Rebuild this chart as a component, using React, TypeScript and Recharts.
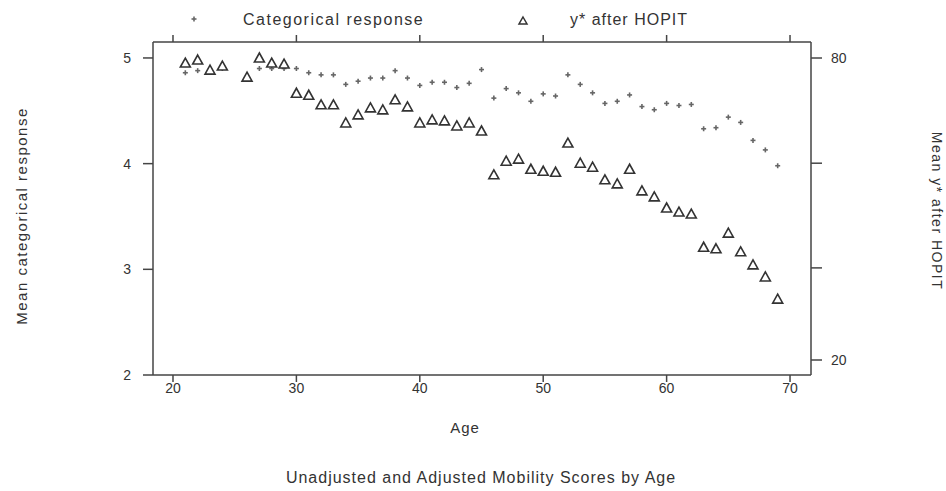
import React from "react";
import {
  ScatterChart,
  Scatter,
  XAxis,
  YAxis,
  Label,
} from "recharts";

const ages = [
  21, 22, 23, 24, 26, 27, 28, 29, 30, 31, 32, 33, 34, 35, 36, 37, 38, 39, 40,
  41, 42, 43, 44, 45, 46, 47, 48, 49, 50, 51, 52, 53, 54, 55, 56, 57, 58, 59,
  60, 61, 62, 63, 64, 65, 66, 67, 68, 69,
];

// mean categorical response (left axis)
const categorical = [
  4.86, 4.88, 4.88, 4.9, 4.82, 4.9, 4.9, 4.9, 4.9, 4.86, 4.84, 4.84, 4.75,
  4.78, 4.81, 4.81, 4.88, 4.81, 4.74, 4.77, 4.77, 4.72, 4.76, 4.89, 4.62, 4.71,
  4.67, 4.59, 4.66, 4.64, 4.84, 4.75, 4.67, 4.57, 4.59, 4.65, 4.54, 4.51, 4.57,
  4.55, 4.56, 4.33, 4.34, 4.44, 4.39, 4.22, 4.13, 3.98,
];

// mean y* after HOPIT (right axis)
const ystar = [
  79.0, 79.6, 77.6, 78.4, 76.2, 80.0, 79.0, 78.8, 73.0, 72.6, 70.7, 70.7, 67.1,
  68.7, 70.1, 69.7, 71.7, 70.3, 67.1, 67.7, 67.5, 66.5, 67.1, 65.5, 56.8, 59.5,
  59.9, 57.9, 57.5, 57.3, 63.1, 59.1, 58.3, 55.8, 55.0, 57.9, 53.6, 52.4, 50.2,
  49.4, 49.0, 42.4, 42.1, 45.2, 41.5, 38.9, 36.5, 32.1,
];

const ageTicks = [20, 30, 40, 50, 60, 70];
const leftTicks = [2, 3, 4, 5];
const rightTicks = [20, 38.3, 59.1, 80];
const rightLabels = [20, 80];

const data = ages.map((age, i) => ({
  age,
  cat: categorical[i],
  ys: ystar[i],
}));

const FONT = '"Liberation Sans", Arial, sans-serif';
const AXIS = "#454545";
const tickStyle = { fontSize: 14, fill: "#333", fontFamily: FONT };

function PlusMark({ cx, cy }: { cx?: number; cy?: number }) {
  if (cx == null || cy == null) return null;
  return (
    <g stroke="#666" strokeWidth={1.6}>
      <line x1={cx - 2.5} y1={cy} x2={cx + 2.5} y2={cy} />
      <line x1={cx} y1={cy - 2.5} x2={cx} y2={cy + 2.5} />
    </g>
  );
}

function TriMark({ cx, cy }: { cx?: number; cy?: number }) {
  if (cx == null || cy == null) return null;
  return (
    <polygon
      points={`${cx},${cy - 5} ${cx + 5},${cy + 4} ${cx - 5},${cy + 4}`}
      fill="#fff"
      stroke="#333"
      strokeWidth={1.6}
    />
  );
}

export default function App() {
  return (
    <div
      style={{
        position: "absolute",
        left: 0,
        top: 0,
        width: 946,
        height: 491,
        background: "#fff",
        fontFamily: FONT,
        color: "#333",
      }}
    >
      <ScatterChart
        width={946}
        height={491}
        data={data}
        margin={{ top: 0, right: 0, bottom: 0, left: 0 }}
      >
        <XAxis
          xAxisId="bottom"
          dataKey="age"
          type="number"
          domain={[18.38, 71.7]}
          allowDataOverflow
          ticks={ageTicks}
          height={116}
          stroke={AXIS}
          strokeWidth={1.5}
          tickSize={7}
          tickMargin={1}
          tick={tickStyle}
        >
          <Label
            content={() => (
              <text
                x={465}
                y={433}
                textAnchor="middle"
                fontSize={15}
                fill="#333"
                fontFamily={FONT}
                letterSpacing={1}
              >
                Age
              </text>
            )}
          />
        </XAxis>
        <XAxis
          xAxisId="top"
          orientation="top"
          dataKey="age"
          type="number"
          domain={[18.38, 71.7]}
          allowDataOverflow
          ticks={ageTicks}
          height={42}
          stroke={AXIS}
          strokeWidth={1.5}
          tickSize={7}
          tickFormatter={() => ""}
        />
        <YAxis
          yAxisId="left"
          type="number"
          domain={[2, 5.151]}
          allowDataOverflow
          ticks={leftTicks}
          width={153}
          stroke={AXIS}
          strokeWidth={1.5}
          tickSize={10}
          tickMargin={12}
          tick={tickStyle}
        >
          <Label
            content={() => (
              <text
                x={21}
                y={216}
                transform="rotate(-90 21 216)"
                textAnchor="middle"
                dominantBaseline="central"
                fontSize={15}
                fill="#333"
                fontFamily={FONT}
                letterSpacing={1.5}
              >
                Mean categorical response
              </text>
            )}
          />
        </YAxis>
        <YAxis
          yAxisId="right"
          orientation="right"
          type="number"
          domain={[17.02, 83.18]}
          allowDataOverflow
          ticks={rightTicks}
          width={135}
          stroke={AXIS}
          strokeWidth={1.5}
          tickSize={11}
          tickMargin={9}
          tick={tickStyle}
          tickFormatter={(v: number) => (rightLabels.includes(v) ? String(v) : "")}
        >
          <Label
            content={() => (
              <text
                x={937}
                y={211}
                transform="rotate(90 937 211)"
                textAnchor="middle"
                dominantBaseline="central"
                fontSize={14}
                fill="#333"
                fontFamily={FONT}
                letterSpacing={1.5}
              >
                Mean y* after HOPIT
              </text>
            )}
          />
        </YAxis>
        <Scatter
          name="Categorical response"
          xAxisId="bottom"
          yAxisId="left"
          dataKey="cat"
          shape={<PlusMark />}
          isAnimationActive={false}
        />
        <Scatter
          name="y* after HOPIT"
          xAxisId="bottom"
          yAxisId="right"
          dataKey="ys"
          shape={<TriMark />}
          isAnimationActive={false}
        />
      </ScatterChart>

      {/* legend */}
      <svg
        width={946}
        height={40}
        style={{ position: "absolute", left: 0, top: 0 }}
      >
        <PlusMark cx={194} cy={19} />
        <text
          x={243}
          y={25}
          fontSize={16}
          fill="#333"
          fontFamily={FONT}
          letterSpacing={1.5}
        >
          Categorical response
        </text>
        <polygon
          points="523,17 527,24 519,24"
          fill="#fff"
          stroke="#333"
          strokeWidth={1.5}
        />
        <text
          x={570}
          y={25}
          fontSize={16}
          fill="#333"
          fontFamily={FONT}
          letterSpacing={1}
        >
          y* after HOPIT
        </text>
      </svg>

      <div
        style={{
          position: "absolute",
          left: 0,
          top: 469,
          width: 962,
          textAlign: "center",
          fontSize: 16,
          letterSpacing: 1,
        }}
      >
        Unadjusted and Adjusted Mobility Scores by Age
      </div>
    </div>
  );
}
